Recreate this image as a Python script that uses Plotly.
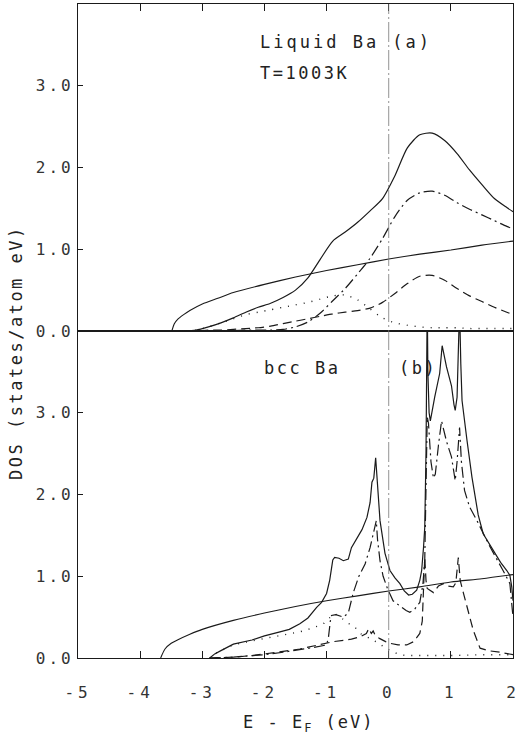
import plotly.graph_objects as go

# ---------------- Panel (a): liquid Ba, T = 1003 K ----------------
E_a_free = [-3.49, -3.45, -3.4, -3.3, -3.2, -3.0, -2.75, -2.5, -2.0, -1.5, -1.0, -0.5, 0.0, 0.5, 1.0, 1.5, 2.0]
dos_a_free = [0.0, 0.09, 0.14, 0.20, 0.25, 0.33, 0.40, 0.47, 0.57, 0.66, 0.74, 0.81, 0.88, 0.94, 0.99, 1.05, 1.10]

E_a = [-3.5, -3.3, -3.1, -2.9, -2.7, -2.5, -2.3, -2.1, -1.9, -1.7, -1.5, -1.3, -1.1, -0.9, -0.7,
       -0.5, -0.3, -0.1, 0.1, 0.3, 0.5, 0.7, 0.9, 1.1, 1.3, 1.5, 1.7, 1.9, 2.0]
dos_a_total = [0.0, 0.0, 0.01, 0.05, 0.10, 0.16, 0.23, 0.29, 0.34, 0.41, 0.50, 0.65, 0.88, 1.10, 1.21,
               1.33, 1.47, 1.62, 1.90, 2.24, 2.40, 2.42, 2.33, 2.17, 1.97, 1.79, 1.62, 1.51, 1.46]
dos_a_s = [0.0, 0.0, 0.01, 0.05, 0.10, 0.15, 0.20, 0.23, 0.26, 0.29, 0.32, 0.35, 0.39, 0.43, 0.44,
           0.38, 0.27, 0.16, 0.10, 0.07, 0.05, 0.04, 0.04, 0.04, 0.03, 0.03, 0.03, 0.03, 0.03]
dos_a_p = [0.0, 0.0, 0.0, 0.01, 0.01, 0.02, 0.03, 0.04, 0.06, 0.09, 0.12, 0.15, 0.18, 0.21, 0.23,
           0.25, 0.28, 0.35, 0.46, 0.58, 0.67, 0.68, 0.62, 0.52, 0.43, 0.36, 0.29, 0.23, 0.20]
dos_a_d = [0.0, 0.0, 0.0, 0.0, 0.0, 0.005, 0.01, 0.01, 0.01, 0.02, 0.05, 0.11, 0.22, 0.37, 0.52,
           0.70, 0.89, 1.13, 1.40, 1.60, 1.69, 1.71, 1.66, 1.57, 1.49, 1.42, 1.35, 1.28, 1.25]

# ---------------- Panel (b): bcc Ba ----------------
E_b_free = [-3.67, -3.6, -3.5, -3.4, -3.2, -3.0, -2.5, -2.0, -1.5, -1.0, -0.5, 0.0, 0.5, 1.0, 1.5, 2.0]
dos_b_free = [0.0, 0.11, 0.18, 0.22, 0.29, 0.35, 0.46, 0.55, 0.63, 0.70, 0.76, 0.82, 0.87, 0.93, 0.97, 1.02]

E_b_total = [-2.88, -2.8, -2.7, -2.5, -2.2, -2.0, -1.75, -1.6, -1.43, -1.3, -1.16, -1.08, -1.0, -0.95,
             -0.92, -0.9, -0.87, -0.8, -0.73, -0.65, -0.6, -0.5, -0.43, -0.35, -0.3, -0.27, -0.24,
             -0.21, -0.19, -0.14, -0.06, 0.02, 0.1, 0.18, 0.25, 0.32, 0.38, 0.45, 0.5, 0.53, 0.56,
             0.58, 0.6, 0.61, 0.62, 0.63, 0.65, 0.67, 0.7, 0.74, 0.82, 0.86, 0.93, 1.01, 1.05, 1.07,
             1.1, 1.12, 1.14, 1.16, 1.18, 1.26, 1.34, 1.44, 1.52, 1.68, 1.8, 1.9, 1.95, 1.98, 2.0]
dos_b_total = [0.0, 0.05, 0.09, 0.17, 0.22, 0.27, 0.32, 0.35, 0.42, 0.49, 0.62, 0.68, 0.79, 0.95,
               1.10, 1.20, 1.23, 1.22, 1.19, 1.21, 1.35, 1.48, 1.57, 1.72, 1.90, 2.15, 2.20,
               2.45, 2.20, 1.68, 1.28, 1.07, 0.98, 0.91, 0.82, 0.77, 0.78, 0.83, 0.95, 1.07, 1.35,
               1.60, 2.50, 3.50, 4.40, 3.50, 3.00, 2.90, 3.05, 3.19, 3.48, 3.82, 3.56, 3.33, 3.10, 3.03,
               3.19, 3.70, 4.30, 3.60, 3.15, 2.66, 2.21, 1.75, 1.52, 1.32, 1.17, 1.07, 1.01, 0.87, 0.70]

E_b_s = [-2.88, -2.8, -2.7, -2.5, -2.2, -2.0, -1.75, -1.43, -1.21, -1.05, -0.94, -0.87, -0.81, -0.68,
         -0.52, -0.46, -0.25, -0.1, 0.02, 0.18, 0.3, 0.6, 1.0, 1.5, 2.0]
dos_b_s = [0.0, 0.05, 0.09, 0.16, 0.21, 0.24, 0.28, 0.32, 0.37, 0.42, 0.50, 0.54, 0.52, 0.44,
           0.36, 0.30, 0.22, 0.15, 0.09, 0.04, 0.03, 0.03, 0.03, 0.04, 0.04]

E_b_p = [-2.88, -2.5, -2.2, -1.96, -1.7, -1.43, -1.2, -0.89, -0.6, -0.46, -0.36, -0.32, -0.28, -0.25,
         -0.22, -0.15, -0.05, 0.02, 0.15, 0.29, 0.4, 0.5, 0.54, 0.56, 0.58, 0.6, 0.62, 0.72, 0.8,
         0.88, 0.96, 1.04, 1.08, 1.12, 1.15, 1.2, 1.25, 1.36, 1.47, 1.6, 1.8, 2.0]
dos_b_p = [0.0, 0.01, 0.03, 0.05, 0.08, 0.11, 0.15, 0.20, 0.23, 0.26, 0.30, 0.36, 0.30, 0.33,
           0.28, 0.24, 0.20, 0.18, 0.16, 0.16, 0.20, 0.30, 0.45, 0.75, 1.23, 0.95, 0.85, 0.80, 0.88,
           0.91, 0.88, 0.87, 0.92, 1.23, 0.95, 0.80, 0.65, 0.34, 0.12, 0.09, 0.07, 0.04]

E_b_d = [-2.88, -2.5, -2.2, -2.0, -1.7, -1.43, -1.2, -1.0, -0.97, -0.94, -0.92, -0.85, -0.73, -0.65,
         -0.57, -0.48, -0.38, -0.3, -0.25, -0.22, -0.2, -0.18, -0.14, -0.09, -0.02, 0.07, 0.18,
         0.28, 0.34, 0.42, 0.5, 0.55, 0.58, 0.6, 0.62, 0.64, 0.68, 0.72, 0.75, 0.8, 0.85, 0.93,
         1.01, 1.07, 1.1, 1.14, 1.17, 1.22, 1.3, 1.42, 1.63, 1.84, 1.95, 2.0]
dos_b_d = [0.0, 0.01, 0.03, 0.04, 0.07, 0.10, 0.13, 0.16, 0.25, 0.45, 0.52, 0.53, 0.50, 0.55,
           0.80, 1.00, 1.15, 1.35, 1.50, 1.60, 1.68, 1.45, 1.19, 1.00, 0.85, 0.70, 0.64,
           0.58, 0.56, 0.60, 0.68, 0.90, 1.20, 2.00, 2.95, 2.87, 2.40, 2.20, 2.25, 2.60, 2.90, 2.65,
           2.46, 2.17, 2.40, 2.82, 2.40, 2.05, 1.85, 1.68, 1.36, 1.07, 0.91, 0.50]

X_TICKS = [-5, -4, -3, -2, -1, 0, 1, 2]
X_TICKTEXT = ["-5", "-4", "-3", "-2", "-1", "0", "1", "2"]
Y_TICKS = [0, 1, 2, 3]
Y_TICKTEXT = ["0.0", "1.0", "2.0", "3.0"]

INK = "#1a1a1a"
FONT = "DejaVu Sans Mono"


def spaced(t, px):
    return '<span style="letter-spacing:%spx">%s</span>' % (px, t)


STYLE_SOLID = dict(color=INK, width=1.2, dash="solid")
STYLE_FREE = dict(color=INK, width=1.1, dash="solid")
STYLE_DOT = dict(color=INK, width=1.4, dash="1px,7px")
STYLE_DASH = dict(color=INK, width=1.2, dash="9px,5px")
STYLE_DASHDOT = dict(color=INK, width=1.2, dash="11px,4px,2px,4px")

fig = go.Figure()


def add(x, y, style, xa, ya, smooth=False):
    line = dict(style)
    if smooth:
        line.update(shape="spline", smoothing=0.7)
    fig.add_trace(go.Scatter(x=x, y=y, mode="lines", line=line, xaxis=xa, yaxis=ya,
                             showlegend=False, hoverinfo="skip"))


# panel (a) on top axes (x2, y2)
add(E_a_free, dos_a_free, STYLE_FREE, "x2", "y2", smooth=True)
add(E_a, dos_a_total, STYLE_SOLID, "x2", "y2", smooth=True)
add(E_a, dos_a_s, STYLE_DOT, "x2", "y2", smooth=True)
add(E_a, dos_a_p, STYLE_DASH, "x2", "y2", smooth=True)
add(E_a, dos_a_d, STYLE_DASHDOT, "x2", "y2", smooth=True)

# panel (b) on bottom axes (x, y)
add(E_b_free, dos_b_free, STYLE_FREE, "x", "y", smooth=True)
add(E_b_total, dos_b_total, STYLE_SOLID, "x", "y")
add(E_b_s, dos_b_s, STYLE_DOT, "x", "y")
add(E_b_p, dos_b_p, STYLE_DASH, "x", "y")
add(E_b_d, dos_b_d, STYLE_DASHDOT, "x", "y")

tickfont = dict(family=FONT, size=16, color="#333")

common_x = dict(range=[-5, 2], tickvals=X_TICKS, ticks="inside", ticklen=7, tickcolor=INK,
                showline=True, linecolor=INK, linewidth=1.2, mirror=True, showgrid=False,
                zeroline=False, tickfont=tickfont)
common_y = dict(range=[0, 4], tickvals=Y_TICKS, ticktext=[spaced(t, 3) for t in Y_TICKTEXT],
                ticks="inside", ticklen=5, tickcolor=INK, showline=True, linecolor=INK,
                linewidth=1.2, mirror=True, showgrid=False, zeroline=False, tickfont=tickfont)

fig.update_layout(
    width=524, height=750,
    margin=dict(l=78, r=11, t=4, b=92),
    paper_bgcolor="white", plot_bgcolor="white",
    xaxis=dict(domain=[0, 1], anchor="y", ticktext=[spaced(t, 4) for t in X_TICKTEXT],
               ticklabelstandoff=20, **common_x),
    yaxis=dict(domain=[0, 0.5], anchor="x", **common_y),
    xaxis2=dict(domain=[0, 1], anchor="y2", side="top", showticklabels=False, matches="x", **common_x),
    yaxis2=dict(domain=[0.5, 1], anchor="x2", **common_y),
)

# Fermi level marker
fig.add_shape(type="line", xref="x", yref="paper", x0=0, x1=0, y0=0, y1=1,
              line=dict(color="#777", width=0.8, dash="20px,3px,2px,3px"))

lab = dict(family=FONT, size=17, color="#222")
ann = [
    dict(text="Liquid Ba (a)", x=0.414, y=0.942, sp=3),
    dict(text="T=1003K", x=0.414, y=0.894, sp=2.5),
    dict(text="bcc Ba", x=0.423, y=0.443, sp=2.5),
    dict(text="(b)", x=0.733, y=0.443, sp=2.5),
]
for a in ann:
    fig.add_annotation(text=spaced(a["text"], a["sp"]), x=a["x"], y=a["y"], xref="paper",
                       yref="paper", xanchor="left", yanchor="middle", showarrow=False, font=lab)

# rotated axis title, placed by its right edge so the tick labels stay clear
fig.add_annotation(text=spaced("DOS (states/atom eV)", 2.5), x=-0.115, y=0.468, xref="paper",
                   yref="paper", xanchor="right", textangle=-90, showarrow=False,
                   font=dict(family=FONT, size=17, color="#222"))
fig.add_annotation(text=spaced("E - E<sub>F</sub> (eV)", 2), x=0.53, y=-0.121, xref="paper",
                   yref="paper", showarrow=False, font=dict(family=FONT, size=17, color="#222"))

fig.write_html("out.html")
